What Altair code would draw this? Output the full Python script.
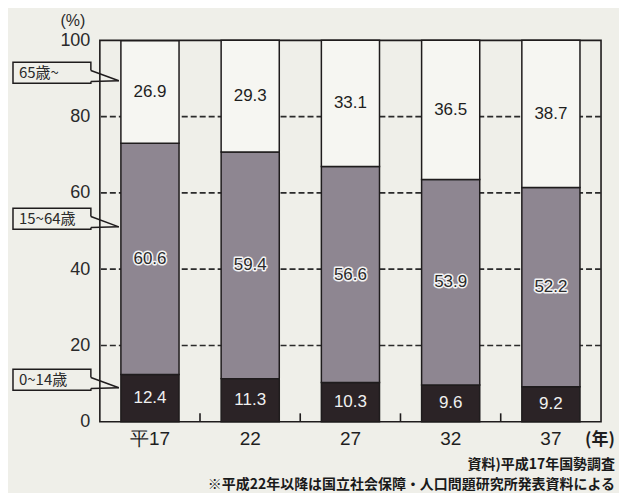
import altair as alt
import pandas as pd

# ---- data ----
years = ["平17", "22", "27", "32", "37"]
age_0_14 = [12.4, 11.3, 10.3, 9.6, 9.2]
age_15_64 = [60.6, 59.4, 56.6, 53.9, 52.2]
age_65 = [26.9, 29.3, 33.1, 36.5, 38.7]
groups = ["0~14歳", "15~64歳", "65歳~"]
y_ticks = [0, 20, 40, 60, 80, 100]
grid_values = [20, 40, 60, 80]
callout_labels = ["65歳~", "15~64歳", "0~14歳"]
callout_levels = [91.5, 53.2, 11.0]
notes = ["資料)平成17年国勢調査", "※平成22年以降は国立社会保障・人口問題研究所発表資料による"]

BG = "#efefe9"
INK = "#1f1c1d"
COLORS = ["#2b2326", "#8e8691", "#f6f6f2"]
NUM_FONT = "Liberation Sans"
JP_FONT = "Noto Sans CJK JP"

rows = []
for i, yr in enumerate(years):
    base = 0.0
    for g, vals in zip(groups, [age_0_14, age_15_64, age_65]):
        v = vals[i]
        rows.append(dict(year=yr, group=g, value=v, y0=base, y1=base + v,
                         mid=base + v / 2, label=f"{v:.1f}"))
        base += v
df = pd.DataFrame(rows)

cdf = pd.DataFrame({"label": callout_labels, "c": callout_levels})
cdf["lo"] = cdf["c"] - 2.75
cdf["hi"] = cdf["c"] + 2.75
cdf["ts"] = cdf["c"] + 0.6
cdf["bs"] = cdf["c"] - 2.3
cdf["tip"] = cdf["c"] - 2.1

xs = alt.Scale(domain=years, paddingInner=0.42, paddingOuter=0.21)
ys = alt.Scale(domain=[0, 100], nice=False, clamp=True)
YAX = alt.Axis(values=y_ticks)


def X(field="year:N", **kw):
    return alt.X(field, scale=xs, title=None, **kw)


def Y(field):
    return alt.Y(field, scale=ys, title=None, axis=YAX)


grid = alt.Chart(pd.DataFrame({"g": grid_values})).mark_rule(
    color="#2a2a2a", strokeWidth=1.6, strokeDash=[6, 3]
).encode(y=Y("g:Q"))

bars = alt.Chart(df).mark_bar(stroke=INK, strokeWidth=1.5).encode(
    x=X(),
    y=Y("y0:Q"),
    y2="y1:Q",
    color=alt.Color("group:N", scale=alt.Scale(domain=groups, range=COLORS), legend=None),
)

# small upward ticks on the baseline, midway between bars
inner_ticks = alt.Chart(pd.DataFrame({"year": years[:-1]})).mark_rule(
    color=INK, strokeWidth=1.6, xOffset=21
).encode(
    x=X(bandPosition=1),
    y=alt.datum(0),
    y2=alt.datum(2.2),
)


def seg_text(group, **style):
    return alt.Chart(df[df.group == group]).mark_text(
        font=NUM_FONT, fontSize=17, **style
    ).encode(x=X(), y=Y("mid:Q"), text="label:N")


old_text = seg_text("65歳~", color="#1e1e1e")
mid_halo = seg_text("15~64歳", color="#f4f4f4", stroke="#f4f4f4", strokeWidth=3,
                    strokeJoin="round")
mid_text = seg_text("15~64歳", color="#2a2a2a")
young_text = seg_text("0~14歳", color="#f0f0f0")

boxes = alt.Chart(cdf).mark_rect(fill=BG, stroke=INK, strokeWidth=1.5).encode(
    x=alt.value(-87), x2=alt.value(-9),
    y=Y("lo:Q"), y2="hi:Q",
)
cover = alt.Chart(cdf).mark_rule(color=BG, strokeWidth=3).encode(
    x=alt.value(-9), y=Y("ts:Q"), y2="bs:Q"
)
tail_top = alt.Chart(cdf).mark_rule(color=INK, strokeWidth=1.5).encode(
    x=alt.value(-9), x2=alt.value(19), y=Y("ts:Q"), y2="tip:Q"
)
tail_bot = alt.Chart(cdf).mark_rule(color=INK, strokeWidth=1.5).encode(
    x=alt.value(-9), x2=alt.value(19), y=Y("bs:Q"), y2="tip:Q"
)
box_text = alt.Chart(cdf).mark_text(
    align="left", font=JP_FONT, fontSize=15, color="#2a2a2a"
).encode(x=alt.value(-81), y=Y("c:Q"), text="label:N")

pct = alt.Chart(pd.DataFrame({"t": ["(%)"]})).mark_text(
    font=NUM_FONT, fontSize=16, color="#2a2a2a"
).encode(x=alt.value(-27), y=alt.value(-19), text="t:N")

nen = alt.Chart(pd.DataFrame({"t": ["(年)"]})).mark_text(
    font=JP_FONT, fontSize=17, fontWeight="bold", color="#1e1e1e"
).encode(x=alt.value(501), y=alt.value(400), text="t:N")

note_text = alt.Chart(pd.DataFrame({"t": [0]})).mark_text(
    font=JP_FONT, fontSize=14, fontWeight="bold", color="#1a1a1a",
    align="right", baseline="middle", lineHeight=20
).encode(x=alt.value(516), y=alt.value(425), text=alt.value(notes))

chart = alt.layer(
    grid, bars, inner_ticks, old_text, mid_halo, mid_text, young_text,
    boxes, cover, tail_top, tail_bot, box_text, pct, nen, note_text
).properties(
    width=502, height=382,
    autosize=alt.AutoSizeParams(type="none"),
    padding={"left": 92, "top": 32, "right": 18, "bottom": 71},
    background=BG,
).configure_view(
    stroke=INK, strokeWidth=1.6
).configure_axisX(
    labelAngle=0, domain=False, ticks=False, tickSize=0, grid=False,
    labelPadding=8, labelFontSize=19, labelColor="#1e1e1e", labelFont=NUM_FONT
).configure_axisY(
    domain=False, ticks=False, tickSize=0, grid=False,
    labelPadding=10, labelFontSize=18, labelColor="#2a2a2a", labelFont=NUM_FONT
)

chart.save("out.html", embed_options={"renderer": "svg", "actions": False})
